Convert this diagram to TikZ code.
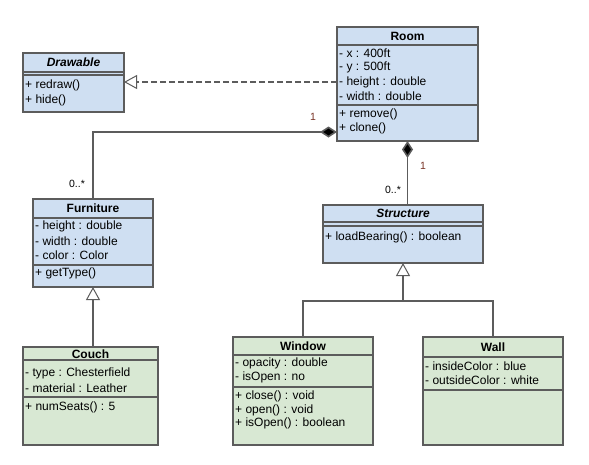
\documentclass[tikz,border=0pt]{standalone}
\usepackage{fontspec}
\setmainfont{Liberation Sans}
\usetikzlibrary{arrows.meta}
\definecolor{bluefill}{HTML}{CFDFF2}
\definecolor{greenfill}{HTML}{D8E8D3}
\definecolor{bord}{HTML}{5C5C5C}
\definecolor{labred}{HTML}{7A3527}
\tikzset{
  clsblue/.style={draw=bord, line width=1.7pt, fill=bluefill, inner sep=0pt, outer sep=0pt},
  clsgreen/.style={draw=bord, line width=1.7pt, fill=greenfill, inner sep=0pt, outer sep=0pt},
  sepline/.style={draw=bord, line width=1.5pt},
  title/.style={inner sep=0pt, font=\fontsize{12}{13}\selectfont\bfseries},
  ititle/.style={inner sep=0pt, font=\fontsize{12}{13}\selectfont\bfseries\itshape},
  mem/.style={anchor=west, inner sep=0pt, font=\fontsize{12}{13}\selectfont},
  conn/.style={draw=bord, line width=1.6pt},
  mult/.style={inner sep=0pt, font=\fontsize{10.5}{12}\selectfont},
  inh/.style={-{Triangle[open, length=13pt, width=14pt, fill=white, line width=1pt]}},
  comp/.style={{Diamond[length=17pt, width=11pt, fill=black]}-}
}
\begin{document}
\begin{tikzpicture}[x=1pt,y=-1pt]
\useasboundingbox[fill=white] (0,0) rectangle (589,464);

% ---- Drawable
\node[clsblue, minimum width=101pt, minimum height=59pt] (drawable) at (73.5,82.5) {};
\draw[sepline] (drawable.west |- 0,72) -- (drawable.east |- 0,72);
\draw[sepline] (drawable.west |- 0,75) -- (drawable.east |- 0,75);
\node[ititle] (drawableT) at (73.5,62.5) {Drawable};
\node[mem] (drawableM1) at (25,85) {+ redraw()};
\node[mem] (drawableM2) at (25,100) {+ hide()};

% ---- Room
\node[clsblue, minimum width=141pt, minimum height=114pt] (room) at (407.5,84) {};
\draw[sepline] (room.west |- 0,45) -- (room.east |- 0,45);
\draw[sepline] (room.west |- 0,105) -- (room.east |- 0,105);
\node[title] (roomT) at (407.5,36) {Room};
\node[mem] (roomA1) at (339,53) {- x : 400ft};
\node[mem] (roomA2) at (339,67.5) {- y : 500ft};
\node[mem] (roomA3) at (339,82) {- height : double};
\node[mem] (roomA4) at (339,96) {- width : double};
\node[mem] (roomM1) at (339,114) {+ remove()};
\node[mem] (roomM2) at (339,128) {+ clone()};

% ---- Furniture
\node[clsblue, minimum width=120pt, minimum height=88pt] (furniture) at (93,243) {};
\draw[sepline] (furniture.west |- 0,218) -- (furniture.east |- 0,218);
\draw[sepline] (furniture.west |- 0,265) -- (furniture.east |- 0,265);
\node[title] (furnitureT) at (93,208.5) {Furniture};
\node[mem] (furnitureA1) at (35,226.5) {- height : double};
\node[mem] (furnitureA2) at (35,241) {- width : double};
\node[mem] (furnitureA3) at (35,255) {- color : Color};
\node[mem] (furnitureM1) at (35,273.5) {+ getType()};

% ---- Structure
\node[clsblue, minimum width=160pt, minimum height=58pt] (structure) at (403,234) {};
\draw[sepline] (structure.west |- 0,222) -- (structure.east |- 0,222);
\draw[sepline] (structure.west |- 0,226) -- (structure.east |- 0,226);
\node[ititle] (structureT) at (403,213.5) {Structure};
\node[mem] (structureM1) at (325,237) {+ loadBearing() : boolean};

% ---- Couch
\node[clsgreen, minimum width=135pt, minimum height=98pt] (couch) at (90.5,396) {};
\draw[sepline] (couch.west |- 0,360) -- (couch.east |- 0,360);
\draw[sepline] (couch.west |- 0,397) -- (couch.east |- 0,397);
\node[title] (couchT) at (90.5,354) {Couch};
\node[mem] (couchA1) at (25,373) {- type : Chesterfield};
\node[mem] (couchA2) at (25,388) {- material : Leather};
\node[mem] (couchM1) at (25,407) {+ numSeats() : 5};

% ---- Window
\node[clsgreen, minimum width=140pt, minimum height=108pt] (window) at (303,391) {};
\draw[sepline] (window.west |- 0,355) -- (window.east |- 0,355);
\draw[sepline] (window.west |- 0,387) -- (window.east |- 0,387);
\node[title] (windowT) at (303,346) {Window};
\node[mem] (windowA1) at (235,363.5) {- opacity : double};
\node[mem] (windowA2) at (235,377.5) {- isOpen : no};
\node[mem] (windowM1) at (235,396) {+ close() : void};
\node[mem] (windowM2) at (235,410) {+ open() : void};
\node[mem] (windowM3) at (235,423.5) {+ isOpen() : boolean};

% ---- Wall
\node[clsgreen, minimum width=140pt, minimum height=108pt] (wall) at (493,391) {};
\draw[sepline] (wall.west |- 0,357) -- (wall.east |- 0,357);
\draw[sepline] (wall.west |- 0,390) -- (wall.east |- 0,390);
\node[title] (wallT) at (493,347) {Wall};
\node[mem] (wallA1) at (425,366) {- insideColor : blue};
\node[mem] (wallA2) at (425,380) {- outsideColor : white};

% ---- connectors
\coordinate (genjoin) at (403,301);
\draw[conn, dashed, dash pattern=on 6pt off 3pt, inh] (room.west |- 0,82) -- (drawable.east |- 0,82);
\draw[conn, comp] (room.west |- 0,132) -| (furniture.north);
\draw[conn, comp] (room.south) -- (room.south |- structure.north);
\draw[conn, inh] (furniture.south |- couch.north) -- (furniture.south);
\draw[conn, inh] (genjoin) -- (structure.south);
\draw[conn] (window.north) |- (genjoin) -| (wall.north);

% ---- multiplicities
\node[mult, text=labred] (m1) at (313,117) {1};
\node[mult] (m2) at (77,184) {0..*};
\node[mult, text=labred] (m3) at (423,166) {1};
\node[mult] (m4) at (393,189.5) {0..*};
\end{tikzpicture}
\end{document}
